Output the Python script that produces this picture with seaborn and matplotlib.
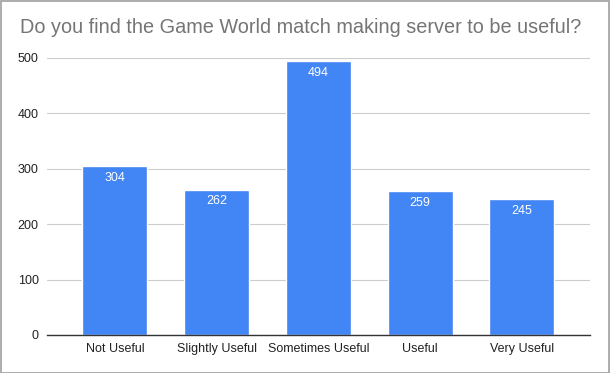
import matplotlib
matplotlib.use("Agg")
import matplotlib.pyplot as plt
import pandas as pd
import seaborn as sns
from matplotlib.patches import Rectangle

categories = ["Not Useful", "Slightly Useful", "Sometimes Useful", "Useful", "Very Useful"]
counts = [304, 262, 494, 259, 245]
yticks = [0, 100, 200, 300, 400, 500]

BAR_COLOR = "#4285F4"

sns.set_theme(style="white")
plt.rcParams["font.family"] = ["Liberation Sans", "DejaVu Sans"]

df = pd.DataFrame({"answer": categories, "count": counts})

fig = plt.figure(figsize=(6.1, 3.73), dpi=100)
ax = fig.add_axes([0.077, 0.102, 0.89, 0.743])

sns.barplot(data=df, x="answer", y="count", color=BAR_COLOR, width=0.64,
            saturation=1, ax=ax)

ax.set_xlim(-0.668, len(categories) - 1 + 0.668)
ax.set_ylim(0, 500)
ax.set_yticks(yticks)
ax.yaxis.grid(True, color="#cccccc", linewidth=0.8)
ax.set_axisbelow(True)
for s in ["top", "right", "left"]:
    ax.spines[s].set_visible(False)
ax.spines["bottom"].set_color("#333333")
ax.spines["bottom"].set_linewidth(1)
ax.tick_params(axis="both", length=0, labelsize=9, colors="#222222", pad=6)
ax.set_xlabel("")
ax.set_ylabel("")

# value labels inside the top of each bar
for bar, val in zip(ax.patches, counts):
    ax.text(bar.get_x() + bar.get_width() / 2, val - 10, f"{val}",
            ha="center", va="top", color="white", fontsize=9)

fig.text(0.033, 0.925, "Do you find the Game World match making server to be useful?",
         fontsize=14.3, color="#757575", ha="left", va="center")

# outer border
fig.patches.append(Rectangle((0.001, 0.001), 0.997, 0.996, transform=fig.transFigure,
                             fill=False, edgecolor="#9e9e9e", linewidth=1.2))

fig.savefig("out.png", dpi=100)
